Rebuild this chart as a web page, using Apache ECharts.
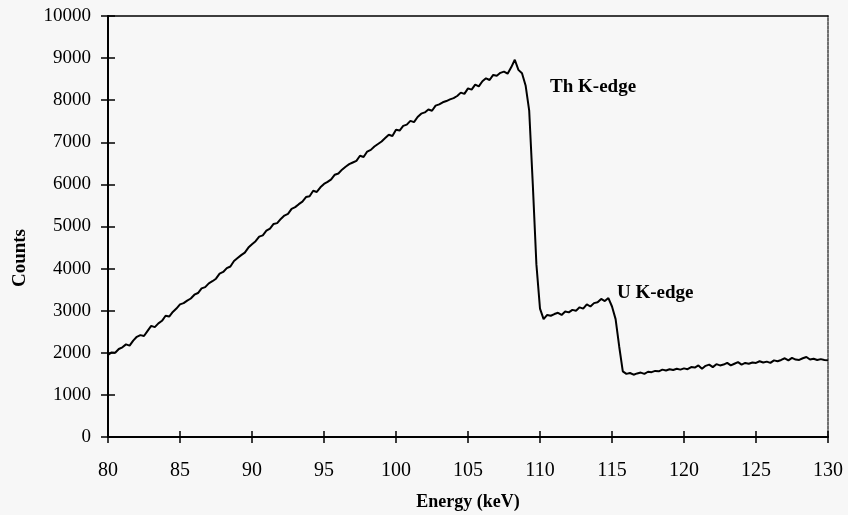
<!DOCTYPE html>
<html style="height: 100%">
<head>
    <meta charset="utf-8">
    <title>Counts vs Energy</title>
</head>
<body style="height: 100%; margin: 0; background: #f7f7f7">
    <div id="container" style="width: 848px; height: 515px"></div>
    <script type="text/javascript" src="https://cdn.jsdelivr.net/npm/echarts@6/dist/echarts.min.js"></script>
    <script type="text/javascript">
        // spectrum, 0.25 keV per channel starting at 80 keV
        var eStart = 80;
        var eStep  = 0.25;
        var counts = [
            1950,2010,2000,2090,2130,2200,2170,2290,2380,2420,2400,2520,2640,2610,2700,2760,2880,2860,2970,3050,
            3150,3180,3240,3290,3380,3420,3530,3560,3650,3700,3760,3880,3920,4010,4050,4180,4250,4320,4380,4500,
            4580,4650,4760,4790,4900,4950,5060,5080,5180,5260,5300,5420,5460,5530,5590,5700,5720,5850,5820,5930,
            6010,6060,6120,6230,6260,6350,6420,6480,6520,6560,6680,6650,6780,6820,6900,6960,7020,7100,7180,7150,
            7300,7280,7390,7420,7510,7480,7600,7680,7710,7780,7750,7870,7900,7950,7980,8020,8050,8100,8180,8150,
            8280,8250,8370,8330,8450,8520,8480,8600,8580,8650,8680,8630,8780,8960,8720,8640,8350,7750,6000,4100,
            3050,2800,2900,2880,2920,2950,2900,2980,2960,3020,3000,3080,3050,3150,3100,3180,3200,3280,3230,3300,
            3100,2800,2150,1560,1500,1520,1480,1510,1530,1500,1550,1540,1570,1560,1600,1580,1610,1590,1620,1600,
            1630,1610,1660,1650,1700,1620,1690,1720,1660,1730,1700,1720,1760,1700,1740,1780,1720,1760,1740,1770,
            1760,1800,1770,1790,1760,1820,1800,1830,1870,1820,1880,1840,1830,1870,1900,1840,1860,1830,1850,1830,
            1820
        ];
        var annotations = [
            { name: 'Th K-edge', coord: [110.35, 8300] },
            { name: 'U K-edge',  coord: [115.0, 3420] }
        ];

        var points = counts.map(function (c, i) {
            return [eStart + i * eStep, c];
        });

        var font = 'Liberation Serif';
        var dom     = document.getElementById('container');
        var myChart = echarts.init(dom);

        var xBase = { type: 'value', min: 80, max: 130, interval: 5, splitLine: { show: false } };
        var yBase = { type: 'value', min: 0, max: 10000, interval: 1000, splitLine: { show: false } };

        option = {
            backgroundColor: '#f7f7f7',
            animation: false,
            grid: { left: 108, right: 20, top: 16, bottom: 78, show: false, containLabel: false, outerBoundsMode: 'none' },
            graphic: [{
                type: 'text',
                left: 11,
                top: 229,
                rotation: Math.PI / 2,
                style: {
                    text: 'Counts',
                    font: 'bold 19px "Liberation Serif"',
                    fill: '#000'
                }
            }],
            xAxis: [
                Object.assign({}, xBase, {
                    position: 'bottom',
                    name: 'Energy (keV)',
                    nameLocation: 'middle',
                    nameGap: 56,
                    nameTextStyle: { fontFamily: font, fontWeight: 'bold', fontSize: 18, color: '#000' },
                    axisLine: { onZero: false, lineStyle: { color: '#000', width: 2 } },
                    axisTick: { length: 6, lineStyle: { color: '#000', width: 1.5 } },
                    axisLabel: { fontFamily: font, fontSize: 20, color: '#000', margin: 24 }
                }),
                Object.assign({}, xBase, {
                    position: 'bottom',
                    axisLine: { show: false, onZero: false },
                    axisTick: { inside: true, length: 6, lineStyle: { color: '#000', width: 1.5 } },
                    axisLabel: { show: false }
                }),
                Object.assign({}, xBase, {
                    position: 'top',
                    axisLine: { onZero: false, lineStyle: { color: '#000', width: 1.5 } },
                    axisTick: { show: false },
                    axisLabel: { show: false }
                })
            ],
            yAxis: [
                Object.assign({}, yBase, {
                    position: 'left',
                    axisLine: { onZero: false, lineStyle: { color: '#000', width: 2 } },
                    axisTick: { length: 7, lineStyle: { color: '#000', width: 1.5 } },
                    axisLabel: { fontFamily: font, fontSize: 19, color: '#000', margin: 17,
                                 formatter: function (v) { return String(v); } }
                }),
                Object.assign({}, yBase, {
                    position: 'left',
                    axisLine: { show: false, onZero: false },
                    axisTick: { inside: true, length: 7, lineStyle: { color: '#000', width: 1.5 } },
                    axisLabel: { show: false }
                }),
                Object.assign({}, yBase, {
                    position: 'right',
                    axisLine: { onZero: false, lineStyle: { color: '#444', width: 1.5, type: [3, 1] } },
                    axisTick: { show: false },
                    axisLabel: { show: false }
                })
            ],
            series: [{
                type: 'line',
                xAxisIndex: 0,
                yAxisIndex: 0,
                data: points,
                showSymbol: false,
                lineStyle: { color: '#000', width: 2 },
                markPoint: {
                    symbol: 'circle',
                    symbolSize: 0,
                    itemStyle: { color: 'transparent' },
                    label: {
                        show: true,
                        position: 'right',
                        formatter: '{b}',
                        fontFamily: font,
                        fontWeight: 'bold',
                        fontSize: 19,
                        color: '#000'
                    },
                    data: annotations
                }
            }]
        };

        myChart.setOption(option, true);
    </script>
</body>
</html>
